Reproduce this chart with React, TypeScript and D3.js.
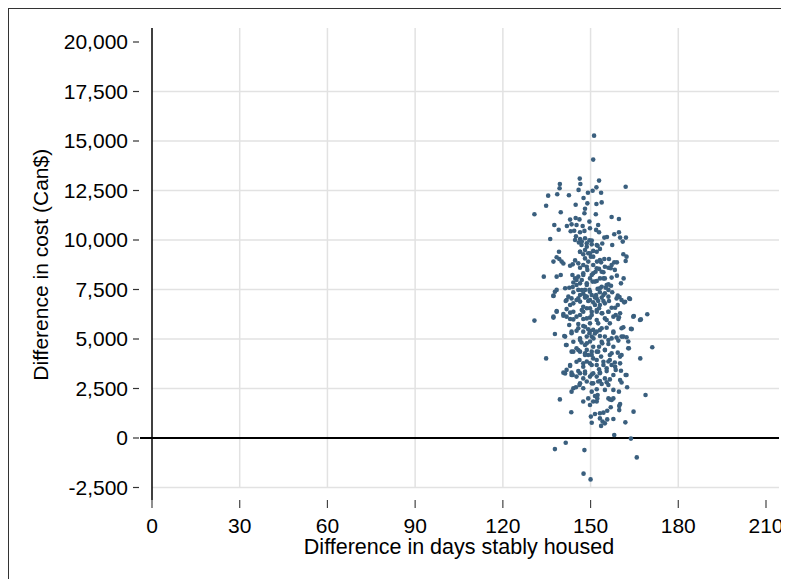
import * as d3 from "d3";

// bootstrap draws: [days stably housed, cost difference Can$]
const upperDraws: [number, number][] = [
  [151.2, 15270], [150.9, 14060], [146.3, 13100], [152.9, 13000], [139.5, 12830], [146.5, 12830],
  [139.4, 12610], [152.0, 12660], [162.0, 12690], [145.9, 12530], [150.7, 12490], [149.1, 12390],
  [153.6, 12390], [135.5, 12240], [138.6, 12310], [142.6, 12260], [147.6, 12120], [134.8, 11730],
  [144.9, 11780], [148.9, 11850], [152.0, 11820], [153.8, 11900], [148.1, 11580], [139.8, 11400],
  [130.8, 11300], [147.9, 11350], [151.8, 11300],
];

const upperLeftDraws: [number, number][] = [
  [143.0, 11030], [144.9, 11110], [146.2, 11040], [137.6, 10760], [141.9, 10710], [143.5, 10790],
  [145.2, 10760], [147.3, 10710], [149.6, 10930], [139.1, 10520], [143.2, 10440], [144.4, 10470],
  [146.4, 10390], [147.9, 10460], [149.8, 10590], [136.2, 10050], [145.0, 10190], [146.4, 10050],
  [148.1, 10090], [149.6, 9980], [146.0, 9870], [146.9, 9750], [148.7, 9660], [150.4, 9780],
  [139.2, 9410], [146.4, 9410], [147.5, 9280], [149.2, 9330], [150.9, 9450], [138.4, 9130],
  [139.3, 9040], [140.1, 8910], [137.3, 8910], [140.7, 8810], [144.7, 8970], [143.9, 8770],
  [143.0, 8700], [146.4, 8600], [148.9, 8490], [150.9, 8740], [134.0, 8150], [138.4, 8150],
  [139.8, 8230], [143.8, 8230], [144.7, 8060], [145.8, 8150], [147.0, 7980], [147.5, 8230],
  [149.8, 8060], [150.9, 8320], [144.1, 7850], [145.2, 7730], [146.4, 7810], [148.7, 7730],
  [150.7, 7900], [141.3, 7560], [142.7, 7590], [143.9, 7630], [137.8, 7390], [138.4, 7480],
  [137.3, 7190], [144.1, 7360], [146.4, 7220], [147.5, 7290], [148.7, 7140], [150.4, 7220],
  [142.4, 7140], [143.5, 7050], [145.2, 6970], [141.5, 6920], [146.4, 6890], [149.2, 6920],
  [150.9, 6850], [143.0, 6720], [147.5, 6630], [149.8, 6550], [148.1, 7480], [149.6, 7480],
  [145.8, 7480], [147.5, 8740], [149.2, 8910], [148.1, 9070], [150.1, 9160],
];

const upperRightDraws: [number, number][] = [
  [157.2, 11160], [159.7, 11060], [152.6, 10760], [151.9, 10510], [152.9, 10390], [159.7, 10390],
  [158.1, 10290], [154.7, 10120], [155.6, 10150], [160.1, 10120], [162.1, 10120], [161.0, 9920],
  [157.4, 9750], [154.0, 9820], [152.4, 9710], [153.2, 9550], [152.1, 9410], [161.2, 9280],
  [162.3, 9160], [162.0, 8940], [154.7, 9040], [156.3, 9040], [152.2, 8910], [153.6, 8870],
  [158.1, 8870], [159.0, 8870], [157.2, 8740], [154.9, 8650], [156.1, 8600], [152.9, 8540],
  [158.3, 8490], [151.7, 8400], [154.4, 8370], [156.9, 8570], [159.0, 8200], [161.3, 8060],
  [154.9, 8060], [157.2, 8100], [153.2, 8060], [152.1, 7930], [160.4, 7810], [156.1, 7760],
  [157.0, 7690], [153.8, 7640], [155.2, 7590], [152.4, 7530], [156.1, 7480], [153.2, 7360],
  [154.9, 7310], [157.4, 7360], [159.3, 7190], [159.9, 7120], [163.2, 7050], [151.9, 7220],
  [153.8, 7090], [152.6, 6920], [156.3, 6920], [161.5, 6850], [154.9, 6800], [151.5, 6720],
  [159.3, 6720], [152.9, 6550], [157.2, 6580],
];

const coreDraws: [number, number][] = [
  [137.3, 7170], [141.8, 6970], [144.1, 6800], [145.8, 7050], [148.1, 7090], [149.8, 6970],
  [152.1, 7050], [154.4, 6920], [153.2, 6720], [156.1, 7140], [158.9, 7050], [160.6, 6970],
  [161.8, 6880], [163.5, 7020], [138.4, 6410], [141.8, 6510], [144.1, 6380], [147.0, 6460],
  [148.7, 6550], [150.4, 6380], [152.1, 6460], [153.8, 6300], [156.1, 6380], [158.4, 6580],
  [160.1, 6300], [137.3, 6080], [140.7, 6180], [143.0, 6010], [145.2, 6130], [147.5, 6010],
  [149.8, 6080], [152.1, 5960], [154.9, 6040], [157.8, 6130], [159.5, 6010], [164.6, 6130],
  [166.9, 5960], [141.3, 5120], [143.5, 5370], [145.8, 5540], [148.1, 5620], [149.8, 5400],
  [151.5, 5280], [153.2, 5450], [155.5, 5570], [157.8, 5370], [160.6, 5540], [164.1, 5500],
  [141.8, 4700], [144.1, 4860], [146.4, 4950], [148.7, 4780], [151.0, 5030], [153.8, 4860],
  [156.1, 4950], [158.9, 5070], [161.2, 5120], [162.9, 4530], [143.5, 4360], [145.8, 4440],
  [148.1, 4280], [150.4, 4190], [152.6, 4360], [154.9, 4440], [157.2, 4280], [160.1, 4110],
  [143.0, 3690], [145.2, 3850], [147.5, 3600], [149.8, 3770], [152.1, 3690], [154.4, 3850],
  [156.6, 3940], [158.4, 3600], [141.3, 3260], [143.5, 3180], [145.8, 3380], [148.1, 3260],
  [150.4, 3210], [153.2, 3320], [155.5, 3380], [157.8, 3180], [162.3, 3180], [146.4, 2760],
  [150.4, 2760], [153.2, 2880], [155.5, 2810], [144.7, 10000], [147.0, 9920], [148.7, 9830],
  [150.4, 9970], [152.1, 9750], [148.1, 9490], [149.8, 9330], [146.4, 9410], [150.9, 9160],
  [153.2, 8990], [145.8, 8820], [148.7, 8650], [152.1, 8570], [147.5, 8320], [150.4, 8230],
  [153.8, 8400], [145.2, 7980], [148.7, 7810], [151.5, 7900], [154.4, 8060], [147.0, 7470],
  [149.8, 7390], [153.2, 7560], [155.5, 7730], [148.1, 7170], [151.5, 7100], [154.4, 7220],
];

const lowerLeftDraws: [number, number][] = [
  [130.8, 5930], [137.3, 6130], [138.4, 6380], [140.7, 6260], [141.8, 6130], [143.0, 6330],
  [144.1, 5990], [146.4, 6210], [147.5, 6380], [148.7, 6040], [150.4, 6210], [142.7, 5710],
  [145.8, 5760], [147.5, 5660], [149.8, 5790], [137.8, 5250], [141.0, 5150], [143.5, 5290],
  [145.2, 5420], [147.5, 5370], [149.2, 5490], [150.9, 5460], [146.4, 5030], [148.7, 5120],
  [150.4, 5120], [141.6, 4700], [146.9, 4820], [148.1, 4700], [149.8, 4870], [150.9, 4610],
  [145.2, 4530], [144.1, 4360], [146.4, 4360], [148.7, 4450], [134.8, 4020], [149.2, 4190],
  [150.9, 4020], [146.2, 3940], [147.5, 3770], [148.7, 3860], [150.4, 3690], [143.0, 3640],
  [140.7, 3300], [141.8, 3440], [143.5, 3300], [146.4, 3270], [148.1, 3350], [150.9, 3270],
  [143.9, 3180], [145.2, 3100], [147.5, 3010], [149.8, 3100], [148.7, 2850], [146.2, 2680],
  [150.9, 2760], [144.1, 2510], [145.0, 2560], [143.5, 2340], [147.5, 2510], [150.4, 2340],
  [139.5, 1950], [147.5, 1840], [149.2, 2000], [150.9, 1840], [149.8, 1670], [149.6, 5290],
  [148.1, 4190], [150.4, 4360],
];

const lowerRightDraws: [number, number][] = [
  [152.1, 6380], [154.0, 6300], [156.1, 6380], [158.6, 6210], [159.7, 6100], [164.8, 6160],
  [167.2, 5990], [169.4, 6250], [155.5, 5960], [156.6, 5790], [152.6, 5790], [161.2, 5590],
  [163.8, 5510], [153.8, 5540], [157.8, 5320], [152.1, 5370], [153.2, 5150], [154.9, 5120],
  [160.6, 5120], [162.3, 5090], [157.2, 5030], [159.5, 4920], [162.9, 4870], [154.0, 4780],
  [156.1, 4750], [152.9, 4610], [157.8, 4610], [163.1, 4530], [171.1, 4580], [154.9, 4450],
  [152.1, 4360], [159.3, 4310], [160.6, 4190], [156.6, 4190], [153.6, 4110], [167.0, 4020],
  [152.1, 3940], [156.1, 3860], [158.3, 3810], [160.1, 3770], [154.4, 3690], [157.2, 3690],
  [152.9, 3470], [155.5, 3520], [158.6, 3440], [160.4, 3400], [162.0, 3180], [153.2, 3270],
  [152.1, 3100], [154.9, 3010], [156.6, 2960], [160.1, 2930], [152.6, 2850], [160.6, 2800],
  [153.8, 2730], [156.1, 2680], [162.5, 2560], [152.1, 2460], [154.9, 2430], [157.8, 2430],
  [159.7, 2340], [168.8, 2170], [152.4, 2170], [156.6, 1950], [157.8, 2000], [160.1, 1720],
  [152.1, 1840],
];

const bottomDraws: [number, number][] = [
  [143.4, 1300], [150.1, 1080], [151.5, 1210], [153.2, 1250], [154.4, 1280], [155.7, 1380],
  [156.9, 1550], [159.8, 1410], [159.8, 1620], [164.7, 1330], [150.4, 770], [153.2, 990],
  [154.1, 830], [155.7, 940], [157.8, 960], [154.9, 740], [153.6, 610], [161.9, 790],
  [158.1, 150], [163.8, -30], [141.5, -240], [137.8, -560], [147.9, -610], [165.8, -980],
  [147.6, -1800], [150.0, -2090], [151.5, 2120], [152.3, 2000], [156.1, 2000], [157.2, 1920],
];

const xTicks = [0, 30, 60, 90, 120, 150, 180, 210];
const yTicks = [-2500, 0, 2500, 5000, 7500, 10000, 12500, 15000, 17500, 20000];
const xGrid = [30, 60, 90, 120, 150, 180];
const yGrid = [-2500, 2500, 5000, 7500, 10000, 12500, 15000, 17500];

const W = 781;
const H = 571;
const PLOT = { top: 20, right: 771 };
const FONT = "'Liberation Sans', Arial, sans-serif";
const DOT = "#3a5f7e";

const App = () => {
  const x = d3.scaleLinear().domain([0, 210]).range([144, 758]);
  const y = d3.scaleLinear().domain([0, 20000]).range([430, 34]);
  const fmt = (v: number) => d3.format(",")(v).replace("\u2212", "-");
  const draws = [
    ...upperDraws,
    ...upperLeftDraws,
    ...upperRightDraws,
    ...coreDraws,
    ...lowerLeftDraws,
    ...lowerRightDraws,
    ...bottomDraws,
  ];
  const gridBottom = y(-2500);

  return (
    <svg width={W} height={H} style={{ display: "block", fontFamily: FONT }}>
      <rect x={0.5} y={0.5} width={W + 10} height={H + 10} fill="#fff" stroke="#333" />

      {yGrid.map((v) => (
        <line key={"gy" + v} x1={x(0)} x2={PLOT.right} y1={y(v)} y2={y(v)} stroke="#e2e2e2" strokeWidth={1.5} />
      ))}
      {xGrid.map((v) => (
        <line key={"gx" + v} x1={x(v)} x2={x(v)} y1={PLOT.top} y2={gridBottom} stroke="#e2e2e2" strokeWidth={1.5} />
      ))}

      <line x1={x(0) - 12} x2={PLOT.right} y1={y(0)} y2={y(0)} stroke="#000" strokeWidth={2} />
      <line x1={x(0)} x2={x(0)} y1={PLOT.top} y2={492} stroke="#000" strokeWidth={1.5} />

      {yTicks.map((v) => (
        <g key={"ty" + v}>
          <line x1={125} x2={131} y1={y(v)} y2={y(v)} stroke="#333" strokeWidth={1.2} />
          <text x={120} y={y(v)} dy="0.35em" textAnchor="end" fontSize={21} fill="#000">
            {fmt(v)}
          </text>
        </g>
      ))}

      {xTicks.map((v) => (
        <g key={"tx" + v}>
          <line x1={x(v)} x2={x(v)} y1={492} y2={500} stroke="#444" strokeWidth={1.2} />
          <text x={x(v)} y={525} textAnchor="middle" fontSize={21} fill="#000">
            {v}
          </text>
        </g>
      ))}

      <g>
        {draws.map((d, i) => (
          <circle key={i} cx={x(d[0])} cy={y(d[1])} r={2.3} fill={DOT} />
        ))}
      </g>

      <text x={x(105)} y={546} textAnchor="middle" fontSize={21.5} fill="#000">
        Difference in days stably housed
      </text>
      <text transform={`translate(40, ${(y(20000) + gridBottom) / 2}) rotate(-90)`} textAnchor="middle" fontSize={21} fill="#000">
        Difference in cost (Can$)
      </text>
    </svg>
  );
};

export default App;
